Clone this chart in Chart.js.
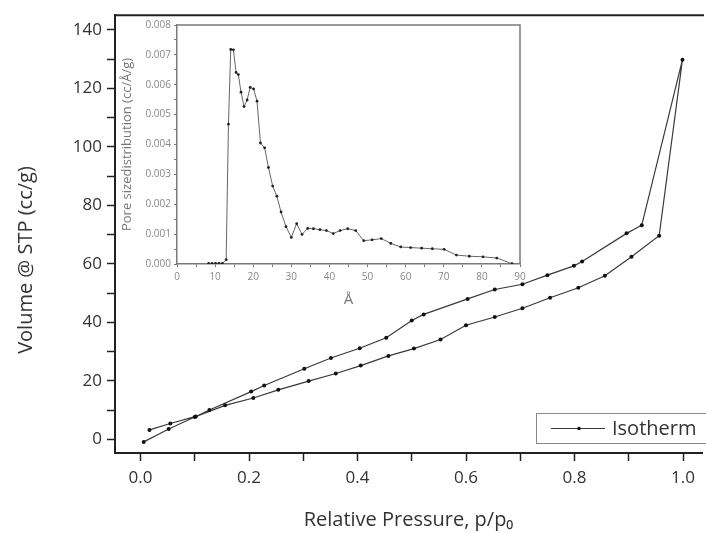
<!DOCTYPE html>
<html><head><meta charset="utf-8">
<script src="https://cdn.jsdelivr.net/npm/chart.js@4.4.1/dist/chart.umd.min.js"></script>
<style>
html,body{margin:0;padding:0;background:#fff;overflow:hidden;width:706px;height:533px}
#main{position:absolute;left:0;top:0}
#inset{position:absolute;left:115px;top:16px}
</style></head><body>
<canvas id="main" width="706" height="533"></canvas>
<canvas id="inset" width="415" height="300"></canvas>
<script>
// ---- Isotherm data (adsorption, then desorption) ----
const adsorptionP = [0.006,0.052,0.100,0.156,0.208,0.254,0.310,0.360,0.406,0.457,0.504,0.553,0.600,0.653,0.704,0.755,0.807,0.856,0.905,0.956,0.999];
const adsorptionV = [-0.9,3.5,7.6,11.6,14.1,16.9,19.9,22.5,25.2,28.5,31.0,34.1,39.0,41.8,44.8,48.4,51.8,55.9,62.4,69.6,129.8];
const desorptionP = [0.924,0.896,0.814,0.799,0.750,0.704,0.653,0.603,0.522,0.500,0.453,0.404,0.351,0.302,0.228,0.204,0.127,0.102,0.055,0.0165];
const desorptionV = [73.2,70.4,60.8,59.3,56.1,53.0,51.2,48.0,42.7,40.6,34.7,31.1,27.8,24.1,18.4,16.3,10.0,7.8,5.4,3.2];
const seriesLabel = 'Isotherm';
const xTitle = 'Relative Pressure, p/p\u2080';
const yTitle = 'Volume @ STP (cc/g)';

// ---- Inset: pore size distribution ----
const poreWidth = [8.3,9.2,10.1,11.0,11.9,12.9,13.5,14.1,14.8,15.5,16.1,16.8,17.6,18.4,19.2,20.1,21.0,21.9,23.0,24.0,25.1,26.2,27.3,28.6,30.0,31.4,32.8,34.3,35.8,37.5,39.2,41.0,42.8,44.8,46.9,49.0,51.2,53.6,56.1,58.7,61.3,64.2,67.0,70.1,73.3,76.7,80.3,83.9,87.9];
const poreDist  = [0.00002,0.00002,0.00002,0.00002,0.00002,0.000144,0.00468,0.00718,0.00717,0.00641,0.00634,0.00575,0.00527,0.00549,0.00591,0.00586,0.00545,0.00405,0.00389,0.00323,0.00261,0.00227,0.00174,0.00125,0.00089,0.00135,0.00099,0.00119,0.00118,0.00115,0.00112,0.00102,0.00112,0.00118,0.00112,0.00078,0.00081,0.00085,0.00069,0.00057,0.00055,0.00053,0.00051,0.00049,0.00030,0.00026,0.00024,0.00020,0.00001];
const insetXTitle = '\u00c5';
const insetYTitle = 'Pore sizedistribution (cc/\u00c5/g)';

// ---- Ticks ----
const mainXTicks = [0,0.1,0.2,0.3,0.4,0.5,0.6,0.7,0.8,0.9,1.0];
const mainXLabels = [0,0.2,0.4,0.6,0.8,1.0];
const mainYTicks = [0,10,20,30,40,50,60,70,80,90,100,110,120,130,140];
const mainYLabels = [0,20,40,60,80,100,120,140];
const insetXTicks = [0,5,10,15,20,25,30,35,40,45,50,55,60,65,70,75,80,85,90];
const insetXLabels = [0,10,20,30,40,50,60,70,80,90];
const insetYTicks = [0,0.0005,0.001,0.0015,0.002,0.0025,0.003,0.0035,0.004,0.0045,0.005,0.0055,0.006,0.0065,0.007,0.0075,0.008];
const insetYLabels = [0,0.001,0.002,0.003,0.004,0.005,0.006,0.007,0.008];

const has = (arr, v) => arr.some(m => Math.abs(m - v) < 1e-9);
const setTicks = arr => s => { s.ticks = arr.map(v => ({value: v})); };

const isotherm = adsorptionP.map((p,i)=>({x:p,y:adsorptionV[i]}))
  .concat(desorptionP.map((p,i)=>({x:p,y:desorptionV[i]})));
const pores = poreWidth.map((w,i)=>({x:w,y:poreDist[i]}));

const framePlugin = {
  id:'frame',
  afterDraw(chart, args, opts){
    const {ctx, chartArea:a} = chart;
    ctx.save();
    ctx.strokeStyle = opts.color; ctx.lineWidth = opts.width;
    ctx.beginPath();
    ctx.moveTo(a.left, a.top); ctx.lineTo(a.right + (opts.right ? 0 : 2), a.top);
    if (opts.right) { ctx.lineTo(a.right, a.bottom); }
    ctx.stroke();
    ctx.restore();
  }
};

// y-axis title of the main chart (placed off-centre as in the original)
const yTitlePlugin = {
  id:'yTitleOffset',
  afterDraw(chart, args, opts){
    const {ctx} = chart;
    ctx.save();
    ctx.translate(opts.x, opts.y);
    ctx.rotate(-Math.PI/2);
    ctx.fillStyle = opts.color;
    ctx.font = opts.font;
    ctx.textAlign = 'center';
    ctx.textBaseline = 'middle';
    ctx.fillText(opts.text, 0, 0);
    ctx.restore();
  }
};

const legendPlugin = {
  id:'boxLegend',
  afterDraw(chart){
    const {ctx} = chart;
    const ds = chart.data.datasets[0];
    ctx.save();
    ctx.strokeStyle = '#8a8a8a'; ctx.lineWidth = 1;
    ctx.strokeRect(536.5, 413.5, 190, 30);
    ctx.strokeStyle = '#3a3a3a'; ctx.lineWidth = 1.2;
    ctx.beginPath(); ctx.moveTo(551, 428.5); ctx.lineTo(605, 428.5); ctx.stroke();
    ctx.fillStyle = '#111';
    ctx.beginPath(); ctx.arc(579, 428.5, 1.8, 0, Math.PI*2); ctx.fill();
    ctx.fillStyle = '#333';
    ctx.font = '20px "Open Sans"';
    ctx.textBaseline = 'middle';
    ctx.fillText(ds.label, 612, 429);
    ctx.restore();
  }
};

const axisFont = {family:'Open Sans', size:17};

new Chart(document.getElementById('main'), {
  type:'line',
  data:{datasets:[{label:seriesLabel, data:isotherm, borderColor:'#3a3a3a', borderWidth:1.2,
    pointRadius:2, pointBackgroundColor:'#111', pointBorderWidth:0, tension:0, fill:false}]},
  options:{
    responsive:false, animation:false, devicePixelRatio:1,
    layout:{padding:{top:13,left:0,right:0,bottom:0}},
    plugins:{legend:{display:false}, tooltip:{enabled:false},
      frame:{color:'#222', width:2, right:false},
      yTitleOffset:{text:yTitle, x:26, y:260, color:'#333', font:'20px "Open Sans"'}},
    scales:{
      x:{type:'linear', min:-0.047, max:1.035,
        afterBuildTicks:setTicks(mainXTicks), afterFit:s=>{s.height=80;},
        grid:{drawOnChartArea:false, drawTicks:true, tickLength:8, tickColor:'#222', tickWidth:1.5},
        border:{display:true, color:'#222', width:2},
        ticks:{autoSkip:false, maxRotation:0, padding:7, color:'#333', font:axisFont,
          callback:v=> has(mainXLabels,v) ? v.toFixed(1) : ''},
        title:{display:true, text:xTitle, color:'#333',
          font:{family:'Open Sans', size:20}, padding:{top:0,bottom:1}}},
      y:{type:'linear', min:-4.7, max:145,
        afterBuildTicks:setTicks(mainYTicks), afterFit:s=>{s.width=115;},
        grid:{drawOnChartArea:false, drawTicks:true, tickLength:8, tickColor:'#222', tickWidth:1.5},
        border:{display:true, color:'#222', width:2},
        ticks:{autoSkip:false, padding:5, color:'#333', font:axisFont,
          callback:v=> has(mainYLabels,v) ? String(v) : ''},
        title:{display:false, text:yTitle}}
    }
  },
  plugins:[framePlugin, legendPlugin, yTitlePlugin]
});

const insetFont = {family:'Open Sans', size:10};
new Chart(document.getElementById('inset'), {
  type:'line',
  data:{datasets:[{label:'Pore size distribution', data:pores, borderColor:'#666', borderWidth:1,
    pointRadius:1.4, pointBackgroundColor:'#222', pointBorderWidth:0, tension:0, fill:false}]},
  options:{
    responsive:false, animation:false, devicePixelRatio:1,
    layout:{padding:{top:8,left:0,right:10,bottom:0}},
    plugins:{legend:{display:false}, tooltip:{enabled:false},
      frame:{color:'#7a7a7a', width:1.5, right:true}},
    scales:{
      x:{type:'linear', min:0, max:90,
        afterBuildTicks:setTicks(insetXTicks), afterFit:s=>{s.height=52;},
        grid:{drawOnChartArea:false, drawTicks:true, tickLength:3, tickColor:'#777', tickWidth:1},
        border:{display:true, color:'#7a7a7a', width:1.5},
        ticks:{autoSkip:false, maxRotation:0, padding:4, color:'#888', font:insetFont,
          callback:v=> has(insetXLabels,v) ? String(v) : ''},
        title:{display:true, text:insetXTitle, color:'#777', font:{family:'Open Sans', size:15}, padding:{top:0,bottom:7}}},
      y:{type:'linear', min:0, max:0.008,
        afterBuildTicks:setTicks(insetYTicks), afterFit:s=>{s.width=62;},
        grid:{drawOnChartArea:false, drawTicks:true, tickLength:3, tickColor:'#777', tickWidth:1},
        border:{display:true, color:'#7a7a7a', width:1.5},
        ticks:{autoSkip:false, padding:3, color:'#888', font:insetFont,
          callback:v=> has(insetYLabels,v) ? v.toFixed(3) : ''},
        title:{display:true, text:insetYTitle, color:'#777',
          font:{family:'Open Sans', size:13}, padding:{top:4,bottom:0}}}
    }
  },
  plugins:[framePlugin]
});
</script>
</body></html>
